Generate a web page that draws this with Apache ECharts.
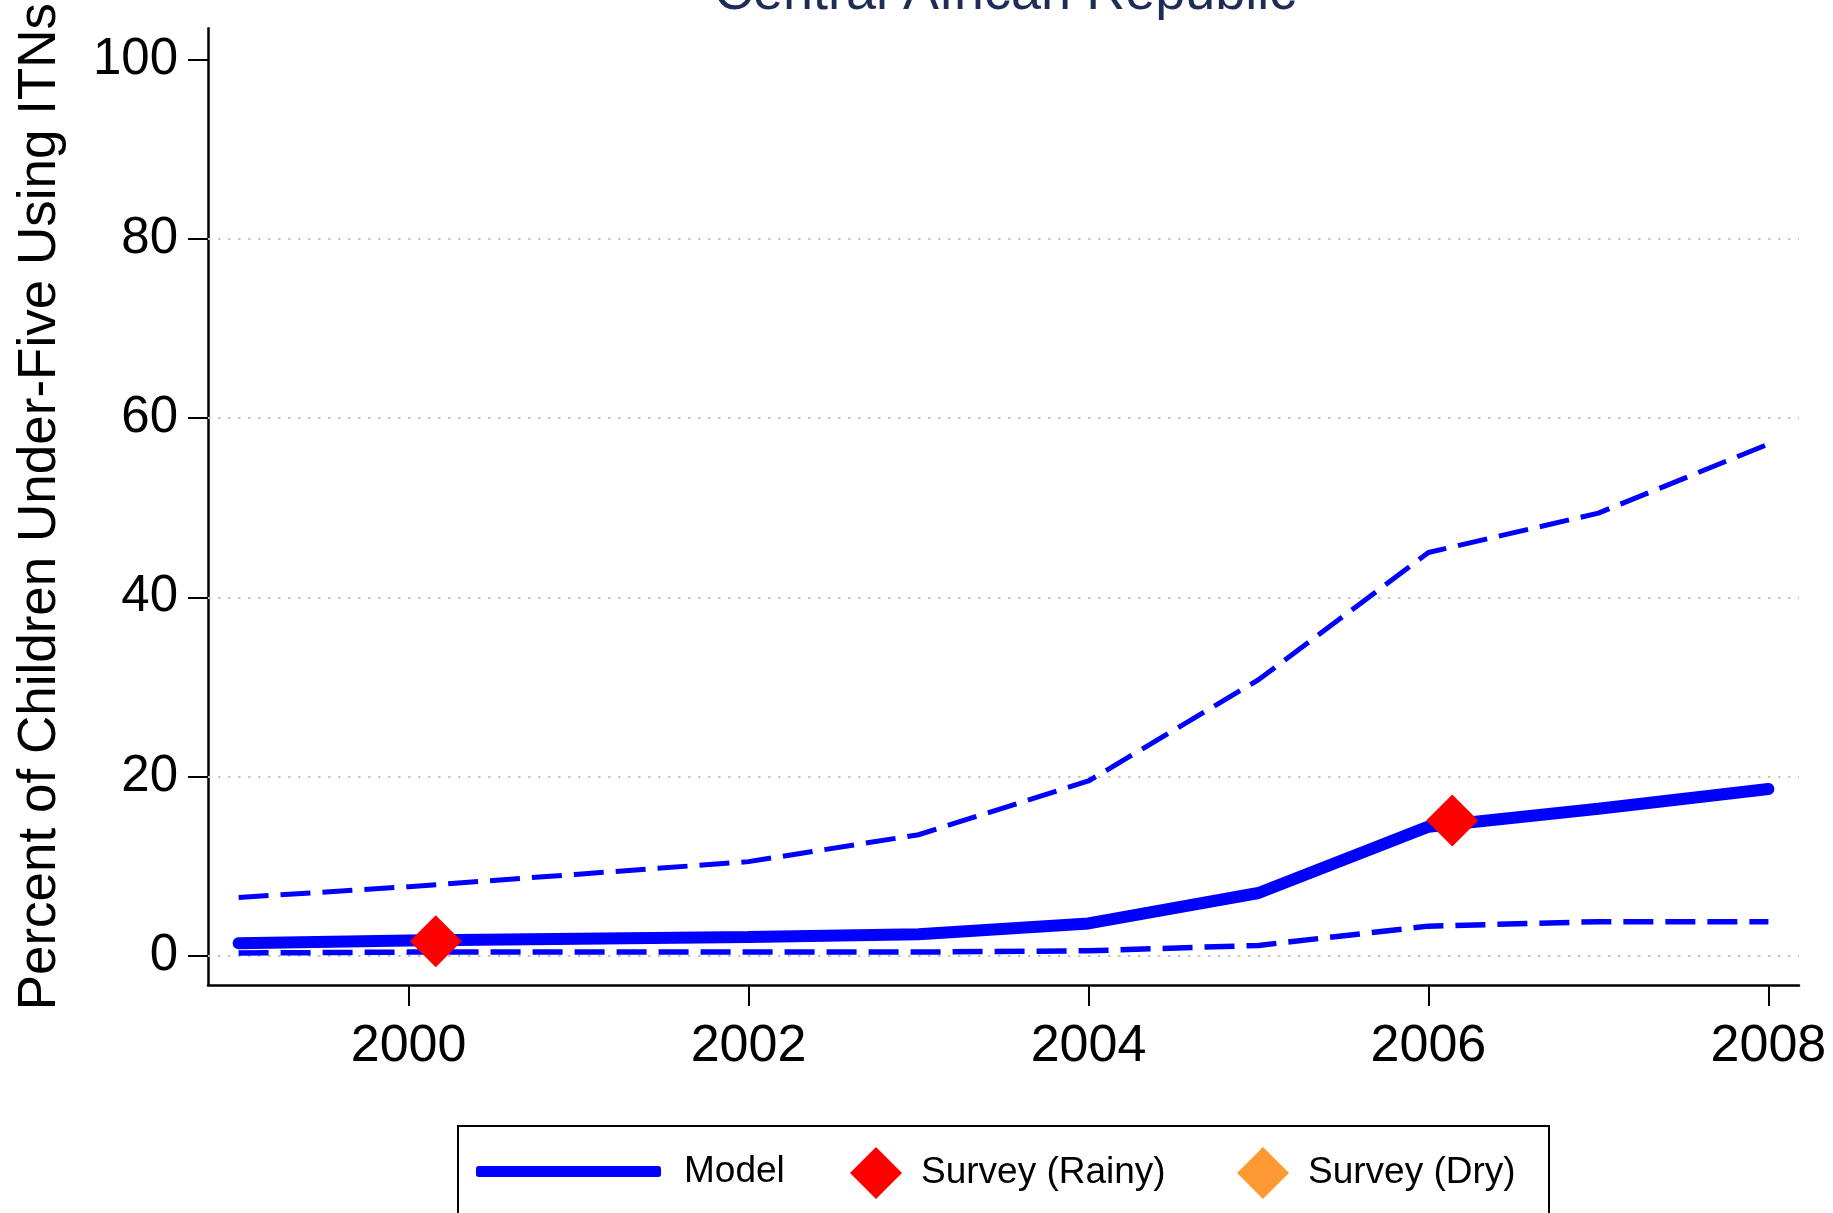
<!DOCTYPE html>
<html>
<head>
<meta charset="utf-8">
<title>Central African Republic</title>
<script src="https://cdn.jsdelivr.net/npm/echarts@6/dist/echarts.min.js"></script>
<style>
  html, body { margin: 0; padding: 0; background: #fff; }
  #chart { width: 1833px; height: 1213px; }
</style>
</head>
<body>
<div id="chart"></div>
<script>
// values
const years = [1999, 2000, 2001, 2002, 2003, 2004, 2005, 2006, 2007, 2008];
const model = [1.4, 1.7, 1.9, 2.1, 2.4, 3.6, 7.0, 14.4, 16.4, 18.6];
const upper = [6.5, 7.7, 9.1, 10.5, 13.5, 19.5, 30.8, 45.0, 49.4, 57.1];
const lower = [0.3, 0.4, 0.4, 0.4, 0.4, 0.55, 1.15, 3.3, 3.8, 3.8];
const rainyYears = [2000.16, 2006.14];
const rainyValues = [1.6, 15.1];
const dryYears = [];
const dryValues = [];
const xTicks = [2000, 2002, 2004, 2006, 2008];
const yTicks = [0, 20, 40, 60, 80, 100];
const gridValues = [0, 20, 40, 60, 80];

const pairs = (xs, ys) => xs.map((x, i) => [x, ys[i]]);

const font = "'Liberation Sans', Arial, Helvetica, sans-serif";
const blue = "#0000ff";

const chart = echarts.init(document.getElementById("chart"), null, {
  width: 1833,
  height: 1213,
  renderer: "canvas",
});

chart.setOption({
  animation: false,
  backgroundColor: "#ffffff",
  title: {
    text: "Central African Republic",
    left: 709,
    top: -38,
    textStyle: {
      fontFamily: font,
      fontSize: 54,
      fontWeight: "normal",
      color: "#1f2d56",
    },
  },
  grid: {
    left: 208,
    right: 34,
    top: 27,
    bottom: 228,
  },
  xAxis: {
    type: "value",
    min: 1998.82,
    max: 2008.18,
    axisLine: { show: true, onZero: false, lineStyle: { color: "#000", width: 2.5 } },
    axisTick: {
      show: true,
      customValues: xTicks,
      length: 21,
      lineStyle: { color: "#000", width: 2 },
    },
    axisLabel: {
      customValues: xTicks,
      margin: 36,
      fontFamily: font,
      fontSize: 52,
      color: "#000",
      formatter: (v) => String(v),
    },
    splitLine: { show: false },
  },
  yAxis: {
    type: "value",
    min: -3.27,
    max: 103.5,
    name: "Percent of Children Under-Five Using ITNs",
    nameLocation: "middle",
    nameRotate: 90,
    nameGap: 141,
    nameTextStyle: {
      fontFamily: font,
      fontSize: 53,
      color: "#000",
    },
    axisLine: { show: true, onZero: false, lineStyle: { color: "#000", width: 2.5 } },
    axisTick: {
      show: true,
      customValues: yTicks,
      length: 20,
      lineStyle: { color: "#000", width: 2 },
    },
    axisLabel: {
      customValues: yTicks,
      margin: 30,
      fontFamily: font,
      fontSize: 51,
      color: "#000",
      formatter: (v) => String(v),
    },
    splitLine: { show: false },
  },
  legend: [
    {
      data: [{ name: "Model", icon: "roundRect" }],
      left: 476,
      top: 1153,
      padding: 0,
      itemWidth: 185,
      itemHeight: 11,
      itemStyle: { color: blue, borderWidth: 0 },
      textStyle: { fontFamily: font, fontSize: 37, color: "#000", padding: [0, 0, 0, 18] },
    },
    {
      data: [{ name: "Survey (Rainy)", icon: "diamond" }],
      left: 850,
      top: 1147,
      padding: 0,
      itemWidth: 52,
      itemHeight: 52,
      itemStyle: { borderWidth: 0, opacity: 1 },
      textStyle: { fontFamily: font, fontSize: 37, color: "#000", padding: [0, 0, 0, 14] },
    },
    {
      data: [{ name: "Survey (Dry)", icon: "diamond" }],
      left: 1237,
      top: 1147,
      padding: 0,
      itemWidth: 52,
      itemHeight: 52,
      itemStyle: { borderWidth: 0, opacity: 1 },
      textStyle: { fontFamily: font, fontSize: 37, color: "#000", padding: [0, 0, 0, 14] },
    },
  ],
  graphic: [
    {
      type: "rect",
      shape: { x: 458, y: 1126, width: 1091, height: 140 },
      style: { fill: "none", stroke: "#000", lineWidth: 2 },
      silent: true,
    },
  ],
  series: [
    {
      name: "Upper",
      type: "line",
      data: pairs(years, upper),
      showSymbol: false,
      z: 3,
      lineStyle: { color: blue, width: 5, type: [30, 12] },
      markLine: {
        silent: true,
        symbol: "none",
        z: 1,
        label: { show: false },
        lineStyle: { color: "#c4c4c4", width: 2, type: [2.5, 7.5] },
        data: gridValues.map((v) => ({ yAxis: v })),
      },
    },
    {
      name: "Lower",
      type: "line",
      data: pairs(years, lower),
      showSymbol: false,
      z: 3,
      lineStyle: { color: blue, width: 5.5, type: [30, 12] },
    },
    {
      name: "Model",
      type: "line",
      data: pairs(years, model),
      showSymbol: false,
      z: 4,
      color: blue,
      lineStyle: { color: blue, width: 12, cap: "round" },
    },
    {
      name: "Survey (Rainy)",
      type: "scatter",
      data: pairs(rainyYears, rainyValues),
      symbol: "diamond",
      symbolSize: 52,
      z: 6,
      itemStyle: { color: "#ff0000", opacity: 1 },
    },
    {
      name: "Survey (Dry)",
      type: "scatter",
      data: pairs(dryYears, dryValues),
      symbol: "diamond",
      symbolSize: 52,
      z: 6,
      itemStyle: { color: "#ff9933", opacity: 1 },
    },
  ],
});
</script>
</body>
</html>
